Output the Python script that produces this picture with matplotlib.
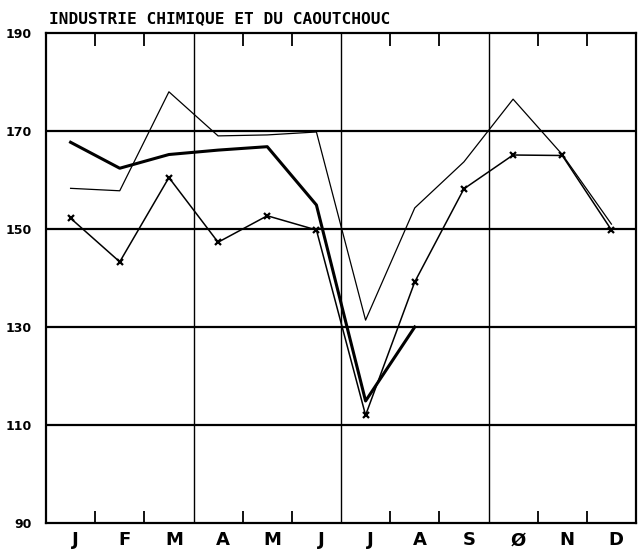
import matplotlib
matplotlib.use("Agg")
import matplotlib.pyplot as plt
import numpy as np

months = ["J", "F", "M", "A", "M", "J", "J", "A", "S", "Ø", "N", "D"]
y_ticks = [90, 110, 130, 150, 170, 190]
title = "INDUSTRIE CHIMIQUE ET DU CAOUTCHOUC"

# thin line, no markers
series_thin = [158.3, 157.8, 178.0, 169.0, 169.2, 169.8, 131.4, 154.3, 163.7, 176.5, 165.2, 151.0]
# thick line (ends in August)
series_thick = [167.7, 162.4, 165.2, 166.1, 166.8, 154.9, 114.9, 130.0]
# thin line with x markers
series_cross = [152.2, 143.3, 160.5, 147.3, 152.7, 149.8, 112.0, 139.2, 158.2, 165.1, 165.0, 149.8]

W, H = 638, 551
fig = plt.figure(figsize=(W / 100, H / 100), dpi=100)
left, right, top, bottom = 46, 636, 33, 523
ax = fig.add_axes([left / W, 1 - bottom / H, (right - left) / W, (bottom - top) / H])

x_all = np.arange(12) + 0.5
ax.plot(x_all, series_thin, color="black", lw=0.9, zorder=3)
ax.plot(x_all[:len(series_thick)], series_thick, color="black", lw=2.2, zorder=4)
ax.plot(x_all, series_cross, color="black", lw=1.1, marker="x", ms=5, mew=1.6, zorder=3)

ax.set_xlim(0, 12)
ax.set_ylim(90, 190)

for yv in y_ticks[1:-1]:
    ax.axhline(yv, color="black", lw=1.6, zorder=2)
for xv in [3, 6, 9]:
    ax.axvline(xv, color="black", lw=1.0, zorder=2)

for s in ax.spines.values():
    s.set_linewidth(1.6)
    s.set_color("black")

ax.set_xticks(x_all + 0.1)
ax.set_xticklabels(months, fontsize=13, fontweight="bold")
ax.tick_params(axis="x", length=0, pad=6)
ax.set_xticks([1, 2, 4, 5, 7, 8, 10, 11], minor=True)
ax.tick_params(axis="x", which="minor", direction="in", length=9, width=1.3,
               top=True, bottom=True, color="black")

ax.set_yticks(y_ticks)
ax.set_yticklabels([str(v) for v in y_ticks], fontsize=9, fontweight="bold")
ax.tick_params(axis="y", length=0, pad=10)

fig.text(49 / W, 1 - 18.5 / H, title, fontsize=11.6, fontweight="bold",
         ha="left", va="center", family=["DejaVu Sans Mono"])

fig.savefig("out.png", dpi=100)
